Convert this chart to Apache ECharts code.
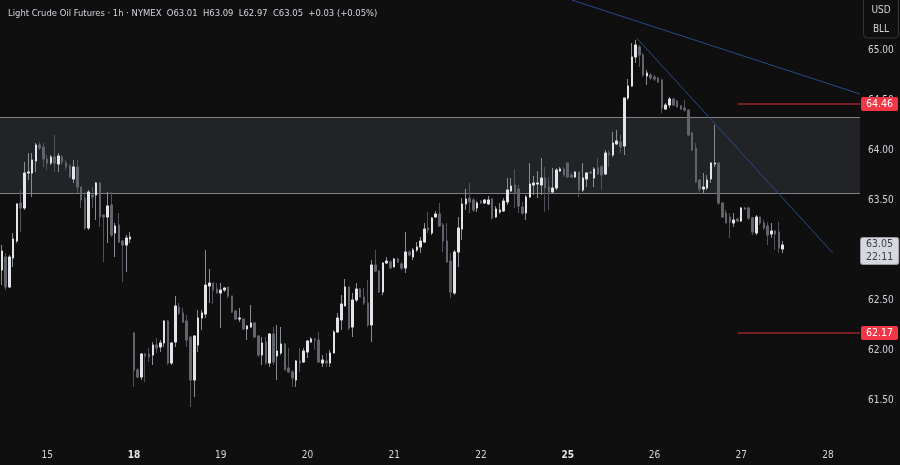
<!DOCTYPE html>
<html><head><meta charset="utf-8">
<script src="https://cdn.jsdelivr.net/npm/echarts@6/dist/echarts.min.js"></script>
<style>html,body{margin:0;padding:0;background:#0f0f0f}#c{width:900px;height:465px}</style>
</head><body><div id="c"></div>
<script>
// ---- axis / categories ----
const dayLabels = ['14','15','18','19','20','21','22','25','26','27','28'];
const barsPerDay = [12,23,23,23,23,23,23,23,23,23,9];
const boldDays = ['18','25'];
const yTickMin = 61.1, yTickMax = 65.5, yTickStep = 0.5;

// ---- OHLC (hourly) ----
const open = [62.80,62.93,62.63,62.92,63.09,63.47,63.42,63.77,63.77,63.89,64.05,64.03,63.91,63.87,63.93,63.86,63.93,63.87,63.84,63.71,63.83,63.63,63.52,63.22,63.55,63.55,63.67,63.35,63.33,63.45,63.17,63.25,63.09,63.05,63.11,
62.17,61.80,61.73,61.96,61.96,61.95,62.05,62.03,62.07,62.29,61.87,62.08,62.43,62.37,62.29,62.13,61.70,62.05,62.32,62.36,62.64,62.67,62.61,62.57,62.60,62.63,62.54,62.39,62.31,62.31,62.21,62.23,62.27,62.14,61.95,62.08,61.87,62.16,61.94,61.97,62.06,61.82,61.78,61.70,61.89,61.88,
61.98,62.08,62.11,62.10,61.87,61.89,61.87,61.97,62.18,62.30,62.44,62.63,62.23,62.50,62.61,62.53,62.47,62.25,62.85,62.79,62.58,62.87,62.88,
62.83,62.91,62.86,62.82,62.98,62.93,63.00,63.03,63.08,63.22,63.17,63.33,63.36,63.25,63.09,62.89,62.57,62.98,63.21,63.46,63.52,63.50,63.42,
63.49,63.47,63.46,63.51,63.33,63.38,63.39,63.48,63.59,63.65,63.61,63.43,63.37,63.53,63.65,63.66,63.65,63.72,63.63,63.58,63.62,63.79,63.81,
63.87,63.75,63.73,63.78,63.60,63.71,63.78,63.72,63.82,63.83,63.76,63.97,63.95,64.06,64.08,64.04,64.52,64.64,64.93,65.03,64.95,64.74,64.75,
64.73,64.72,64.70,64.41,64.45,64.51,64.49,64.44,64.42,64.40,64.17,64.02,63.70,63.61,63.62,63.71,63.86,63.87,63.47,63.37,63.33,63.27,63.31,
63.29,63.42,63.42,63.32,63.17,63.33,63.27,63.24,63.16,63.19,63.18,63.01];
const high = [63.05,62.97,62.95,63.17,63.47,63.60,63.88,63.97,63.97,64.07,64.08,64.07,63.95,63.95,64.15,63.97,63.95,63.90,63.86,63.90,63.90,63.63,63.58,63.60,63.63,63.68,63.68,63.35,63.58,63.58,63.27,63.37,63.10,63.15,63.18,
62.18,61.82,61.97,61.97,62.02,62.08,62.12,62.10,62.30,62.30,62.08,62.54,62.47,62.42,62.35,62.13,62.15,62.40,62.40,63.00,62.81,62.67,62.67,62.67,62.63,62.63,62.54,62.40,62.42,62.31,62.25,62.45,62.28,62.15,62.13,62.13,62.17,62.23,62.25,62.23,62.07,62.02,61.80,61.90,62.02,62.02,
62.10,62.13,62.12,62.18,61.95,61.97,62.00,62.20,62.37,62.55,62.71,62.64,62.57,62.67,62.62,62.62,62.70,62.90,63.00,62.80,62.88,62.93,62.90,
62.92,62.92,62.88,63.18,63.00,63.02,63.08,63.13,63.27,63.38,63.33,63.39,63.47,63.27,63.27,62.97,63.00,63.33,63.52,63.61,63.67,63.52,63.49,
63.50,63.51,63.54,63.52,63.44,63.47,63.52,63.72,63.72,63.81,63.65,63.48,63.55,63.87,63.74,63.79,63.92,63.83,63.73,63.82,63.82,63.83,63.83,
63.87,63.77,63.79,63.78,63.87,63.78,63.79,63.83,63.92,63.85,64.00,64.00,64.18,64.20,64.15,64.52,64.71,65.07,65.10,65.05,64.97,64.80,64.77,
64.75,64.73,64.71,64.47,64.53,64.52,64.50,64.45,64.50,64.40,64.18,64.07,63.70,63.77,63.75,63.88,64.25,63.87,63.47,63.40,63.37,63.37,63.32,
63.43,63.43,63.43,63.33,63.35,63.33,63.30,63.28,63.27,63.20,63.28,63.09];
const low = [62.65,62.60,62.62,62.83,63.07,63.18,63.40,63.70,63.53,63.78,64.00,63.83,63.80,63.85,63.78,63.78,63.85,63.80,63.72,63.67,63.57,63.42,63.20,63.20,63.42,63.30,63.23,62.88,63.07,63.13,62.93,63.07,62.68,62.78,63.07,
61.63,61.72,61.70,61.68,61.88,61.85,61.97,61.98,62.03,61.85,61.85,62.03,62.35,62.27,62.03,61.43,61.53,61.98,62.20,62.32,62.47,62.46,62.57,62.22,62.58,62.52,62.37,62.30,62.28,62.20,62.10,62.22,62.12,61.93,61.85,61.85,61.83,61.85,61.70,61.95,61.80,61.77,61.63,61.63,61.78,61.87,
61.92,62.07,62.00,61.87,61.83,61.83,61.83,61.97,62.17,62.20,62.44,62.20,62.13,62.48,62.53,62.45,62.23,62.08,62.78,62.57,62.55,62.86,62.81,
62.83,62.87,62.80,62.77,62.94,62.90,62.98,62.97,63.07,63.17,63.15,63.32,63.23,62.98,62.87,62.52,62.55,62.83,63.10,63.40,63.37,63.38,63.38,
63.46,63.46,63.45,63.30,63.32,63.36,63.38,63.45,63.58,63.42,63.37,63.35,63.30,63.52,63.55,63.52,63.55,63.38,63.40,63.57,63.60,63.78,63.73,
63.73,63.72,63.72,63.53,63.58,63.63,63.76,63.63,63.75,63.60,63.75,63.83,63.93,64.05,63.97,63.95,64.50,64.63,64.87,64.83,64.73,64.65,64.70,
64.69,64.67,64.37,64.40,64.42,64.44,64.43,64.40,64.38,64.14,63.99,63.67,63.58,63.57,63.60,63.67,63.83,63.45,63.32,63.27,63.12,63.23,63.28,
63.28,63.40,63.30,63.15,63.15,63.25,63.20,63.05,63.12,63.00,62.97,62.97];
const close = [62.99,62.63,62.93,63.11,63.46,63.42,63.77,63.78,63.90,64.05,64.02,63.91,63.87,63.93,63.87,63.94,63.88,63.83,63.73,63.83,63.63,63.50,63.22,63.58,63.53,63.67,63.33,63.33,63.44,63.15,63.24,63.08,63.05,63.12,63.13,
61.80,61.73,61.96,61.94,61.93,62.05,62.02,62.07,62.29,61.87,62.07,62.44,62.37,62.28,62.10,61.70,62.14,62.32,62.37,62.65,62.67,62.60,62.57,62.60,62.62,62.54,62.38,62.31,62.32,62.21,62.24,62.27,62.13,61.95,62.07,61.87,62.16,61.88,61.99,62.06,61.80,61.78,61.72,61.89,61.87,61.99,
62.09,62.11,62.10,61.88,61.90,61.87,61.97,62.18,62.32,62.46,62.63,62.22,62.50,62.61,62.53,62.47,62.25,62.85,62.79,62.58,62.87,62.89,62.82,
62.91,62.88,62.82,62.98,62.95,63.00,63.03,63.09,63.21,63.20,63.32,63.36,63.24,63.09,62.88,62.58,62.98,63.22,63.46,63.51,63.48,63.40,63.47,
63.47,63.50,63.50,63.32,63.41,63.40,63.49,63.60,63.64,63.57,63.44,63.37,63.53,63.66,63.67,63.67,63.72,63.62,63.58,63.62,63.80,63.81,63.75,
63.73,63.73,63.78,63.60,63.72,63.77,63.77,63.81,63.76,63.75,63.97,63.95,64.07,64.09,64.03,64.52,64.64,64.93,65.05,64.95,64.75,64.77,64.72,
64.71,64.68,64.42,64.45,64.51,64.45,64.43,64.41,64.40,64.15,64.00,63.68,63.61,63.63,63.70,63.87,63.87,63.47,63.33,63.27,63.28,63.30,63.29,
63.42,63.41,63.32,63.18,63.33,63.27,63.22,63.15,63.19,63.16,63.02,63.05];

// ---- drawings (bar index, price) ----
const zoneBand = [63.57, 64.33];
const levelPrices = [64.46, 62.17];
const levelStartBar = 195.1;
const trendUpper = [[151.1, 65.5], [227.5, 64.56]];
const trendLower = [[168.3, 65.12], [220.3, 62.97]];
const lastPrice = 63.05;
const countdown = '22:11';
const headerText = 'Light Crude Oil Futures · 1h · NYMEX  O63.01  H63.09  L62.97  C63.05  +0.03 (+0.05%)';

const FONT = "'Liberation Sans Narrow','DejaVu Sans Condensed','Liberation Sans',sans-serif";
const categories = [];
dayLabels.forEach((d, di) => {
  const n = barsPerDay[di];
  const start = di === 0 ? 23 - n : 0;
  for (let h = 0; h < n; h++) categories.push(d + '|' + (start + h));
});
const lastIdx = categories.length - 0.5;

const wickData = open.map((o, i) => [o, close[i], low[i], high[i]]);
const bodyData = open.map((o, i) => [o, close[i], Math.min(o, close[i]), Math.max(o, close[i])]);

const levelSeries = levelPrices.map(p => ({
  name: 'level ' + p, type: 'line', xAxisIndex: 1, silent: true, symbol: 'none', z: 6,
  data: [[levelStartBar, p], [lastIdx, p]],
  lineStyle: {color: '#e0303c', width: 1},
  endLabel: {show: true, distance: 1, formatter: p.toFixed(2), color: '#ffffff',
    backgroundColor: '#f23645', padding: [2, 5, 1, 5], borderRadius: 2, fontSize: 10.5, fontFamily: FONT}
}));

const chart = echarts.init(document.getElementById('c'));
chart.setOption({
  backgroundColor: '#0f0f0f',
  animation: false,
  grid: {left: 0, right: 40, top: 0, bottom: 25},
  title: {text: headerText, left: 3, top: 4, textStyle: {color: '#d1d4dc', fontSize: 9.4, fontWeight: 'normal', fontFamily: FONT}},
  xAxis: [{
    type: 'category', data: categories, boundaryGap: true,
    axisLine: {show: false}, axisTick: {show: false}, splitLine: {show: false},
    axisLabel: {
      interval: (idx, val) => val.endsWith('|0'),
      margin: 10,
      color: '#d1d4dc', fontSize: 10, fontFamily: FONT,
      formatter: v => { const d = v.split('|')[0]; return boldDays.includes(d) ? '{b|' + d + '}' : d; },
      rich: {b: {fontWeight: 'bold', color: '#e6e8ee', fontSize: 10, fontFamily: FONT}}
    }
  }, {
    type: 'value', show: false, min: -0.5, max: lastIdx
  }],
  yAxis: {
    type: 'value', position: 'right', min: yTickMin, max: yTickMax,
    minInterval: yTickStep, maxInterval: yTickStep, splitNumber: 9,
    axisLine: {show: false}, axisTick: {show: false}, splitLine: {show: false},
    axisLabel: {color: '#d1d4dc', fontSize: 10, fontFamily: FONT, margin: 8, showMinLabel: false, showMaxLabel: false,
      formatter: v => v.toFixed(2)}
  },
  graphic: [
    {type: 'rect', shape: {x: 863.5, y: -6, width: 35, height: 44, r: 4}, style: {fill: 'none', stroke: '#363636', lineWidth: 1}},
    {type: 'text', x: 881, y: 10, style: {text: 'USD', fill: '#d1d4dc', font: '10px ' + FONT, textAlign: 'center', textVerticalAlign: 'middle'}},
    {type: 'text', x: 881, y: 29, style: {text: 'BLL', fill: '#d1d4dc', font: '10px ' + FONT, textAlign: 'center', textVerticalAlign: 'middle'}}
  ],
  series: [
    {
      name: 'zone', type: 'line', xAxisIndex: 1, data: [], silent: true,
      markArea: {silent: true, z: 1, itemStyle: {color: '#222327'},
        data: [[{coord: [-0.5, zoneBand[0]]}, {coord: [lastIdx, zoneBand[1]]}]]},
      markLine: {silent: true, z: 1, symbol: 'none', label: {show: false},
        lineStyle: {color: '#7f8085', width: 1, type: 'solid'},
        data: zoneBand.map(p => [{coord: [-0.5, p]}, {coord: [lastIdx, p]}])}
    },
    {
      name: 'wicks', type: 'candlestick', z: 2, data: wickData, barWidth: 2,
      itemStyle: {color: '#8a8c93', color0: '#50525a', borderColor: '#8a8c93', borderColor0: '#50525a', borderWidth: 1}
    },
    {
      name: 'bodies', type: 'candlestick', z: 3, data: bodyData, barWidth: 2,
      itemStyle: {color: '#e4e5e9', color0: '#62646d', borderColor: '#e4e5e9', borderColor0: '#62646d', borderWidth: 1}
    },
    {
      name: 'trendUpper', type: 'line', xAxisIndex: 1, data: trendUpper, symbol: 'none', z: 4,
      lineStyle: {color: '#2b4a8c', width: 1}
    },
    {
      name: 'trendLower', type: 'line', xAxisIndex: 1, data: trendLower, symbol: 'none', z: 4,
      lineStyle: {color: '#2b4a8c', width: 1}
    },
    ...levelSeries,
    {
      name: 'last', type: 'line', xAxisIndex: 1, data: [], silent: true,
      markLine: {silent: true, z: 6, symbol: 'none',
        lineStyle: {color: 'rgba(0,0,0,0)', width: 1},
        label: {show: true, position: 'end', distance: 1,
          color: '#3a3e4a', backgroundColor: '#d5d8df', borderColor: '#9a9da6', borderWidth: 1,
          padding: [1, 5, 0, 5], borderRadius: 2, fontSize: 10.5, lineHeight: 12.5, fontFamily: FONT, offset: [0, 6]},
        data: [[{coord: [levelStartBar, lastPrice], label: {formatter: lastPrice.toFixed(2) + '\n' + countdown}}, {coord: [lastIdx, lastPrice]}]]}
    }
  ]
});
</script></body></html>
